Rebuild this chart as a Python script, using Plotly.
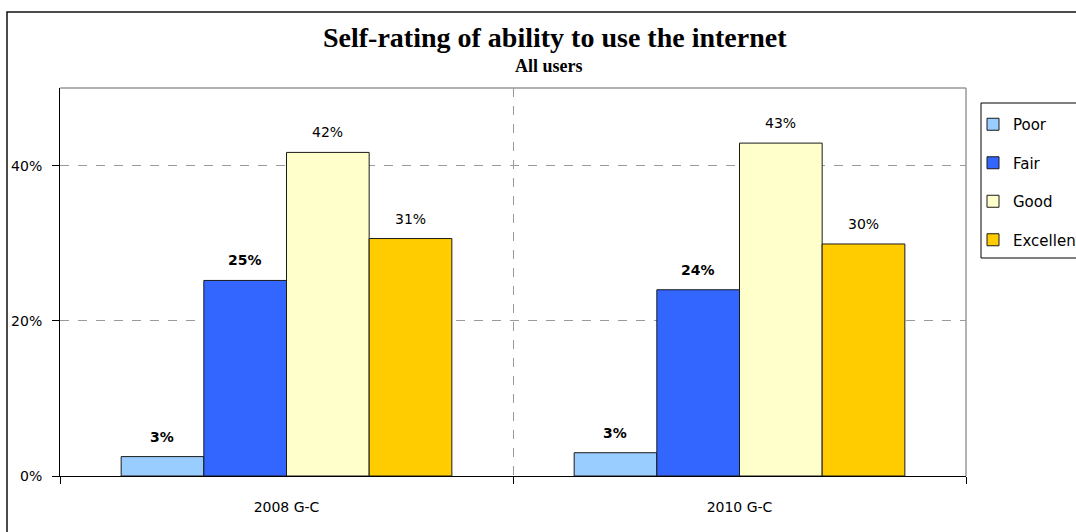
import plotly.graph_objects as go

categories = ["2008 G-C", "2010 G-C"]
series_names = ["Poor", "Fair", "Good", "Excellent"]
poor = [2.5, 3.0]
fair = [25.2, 24.0]
good = [41.7, 42.9]
excellent = [30.6, 29.9]
series_values = [poor, fair, good, excellent]
series_colors = ["#99CCFF", "#3366FF", "#FFFFCC", "#FFCC00"]
label_bold = [True, True, False, False]
y_tick_values = [0, 20, 40]
y_tick_labels = ["0%", "20%", "40%"]

W, H = 1076, 532
L, R, T, B = 60, 966, 88, 476
BARGAP = 0.27

def px_x(x):
    return (x - L) / (R - L)

def px_y(y):
    return (B - y) / (B - T)

fig = go.Figure()
n = len(series_names)
bw = (1 - BARGAP) / n
for k, (name, vals, col) in enumerate(zip(series_names, series_values, series_colors)):
    fig.add_trace(go.Bar(
        name=name, x=categories, y=vals, legendgroup=name,
        marker=dict(color=col, line=dict(color="#1a1a1a", width=1)),
        hoverinfo="skip",
    ))
    off = -(1 - BARGAP) / 2 + bw * (k + 0.5)
    for i, v in enumerate(vals):
        txt = f"{int(v + 0.5)}%"
        if label_bold[k]:
            txt = f"<b>{txt}</b>"
        fig.add_annotation(
            x=i + off, y=v, xref="x", yref="y", text=txt, showarrow=False,
            yanchor="middle", yshift=20,
            font=dict(family="DejaVu Sans", size=14, color="#000000"),
        )

# Titles
fig.add_annotation(x=px_x(555), y=px_y(37), xref="paper", yref="paper",
                   text="<b>Self-rating of ability to use the internet</b>",
                   showarrow=False, yanchor="middle",
                   font=dict(family="Liberation Serif", size=28, color="#000000"))
fig.add_annotation(x=px_x(549), y=px_y(66), xref="paper", yref="paper",
                   text="<b>All users</b>", showarrow=False, yanchor="middle",
                   font=dict(family="Liberation Serif", size=18, color="#000000"))

shapes = [
    # outer chart border
    dict(type="rect", xref="paper", yref="paper",
         x0=px_x(7), x1=px_x(1150), y0=px_y(12), y1=px_y(560),
         line=dict(color="#111111", width=1.5), layer="below"),
    # plot area top/right border
    dict(type="line", xref="paper", yref="paper", x0=0, x1=1, y0=1, y1=1,
         line=dict(color="#999999", width=1.5)),
    dict(type="line", xref="paper", yref="paper", x0=1, x1=1, y0=0, y1=1,
         line=dict(color="#999999", width=1.5)),
    # legend box
    dict(type="rect", xref="paper", yref="paper",
         x0=px_x(981), x1=px_x(1150), y0=px_y(258), y1=px_y(103),
         line=dict(color="#000000", width=1)),
]

fig.update_layout(
    width=W, height=H,
    margin=dict(l=L, r=W - R, t=T, b=H - B, pad=0, autoexpand=False),
    paper_bgcolor="white", plot_bgcolor="white",
    barmode="group", bargap=BARGAP, bargroupgap=0,
    shapes=shapes,
    showlegend=True,
    legend=dict(x=px_x(973), y=px_y(108), xanchor="left", yanchor="top",
                font=dict(family="DejaVu Sans", size=15, color="#000000"),
                bgcolor="rgba(0,0,0,0)", borderwidth=0,
                tracegroupgap=16, traceorder="grouped", itemclick=False),
    xaxis=dict(type="category", tickson="boundaries", ticks="outside", ticklen=7,
               tickcolor="#000000", showline=True, linecolor="#000000", linewidth=1,
               showgrid=True, gridcolor="#9a9a9a", griddash="dash", gridwidth=1,
               tickfont=dict(family="DejaVu Sans", size=14, color="#000000"),
               ticklabelstandoff=18,
               range=[-0.5, 1.5]),
    yaxis=dict(range=[0, 50], tickvals=y_tick_values, ticktext=y_tick_labels,
               ticks="outside", ticklen=7, tickcolor="#000000",
               showline=True, linecolor="#000000", linewidth=1,
               showgrid=True, gridcolor="#9a9a9a", griddash="dash", gridwidth=1,
               zeroline=False, ticklabelstandoff=7,
               tickfont=dict(family="DejaVu Sans", size=14, color="#000000")),
)

fig.write_html("out.html", config={"displayModeBar": False},
               post_script="document.body.style.margin='0';")
